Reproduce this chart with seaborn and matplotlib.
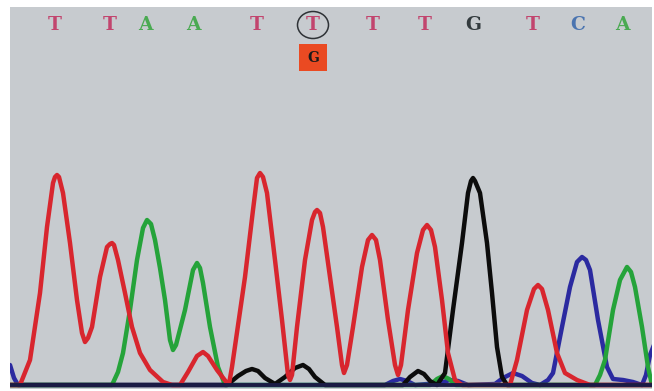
import matplotlib
matplotlib.use("Agg")
import matplotlib.pyplot as plt
from matplotlib.patches import Ellipse, Rectangle
import pandas as pd
import seaborn as sns

# base calls along the top of the trace
bases = ["T", "T", "A", "A", "T", "T", "T", "T", "G", "T", "C", "A"]
base_pos = [55, 110, 145, 193, 257, 313, 373, 425, 473, 533, 578, 622]
mutant_index = 5
mutant_base = "G"

# trace samples: scan position, signal height
red_x = [10, 20, 30, 40, 47, 53, 55, 57, 59, 63, 70, 77, 82, 85, 88, 92, 100, 107, 110, 112,
         114, 118, 125, 132, 140, 150, 163, 172, 180, 188, 197, 203, 208, 217, 227, 229, 232,
         245, 253, 257, 260, 263, 267, 275, 282, 288, 290, 292, 297, 305, 312, 315, 317, 320,
         323, 330, 337, 342, 344, 347, 353, 362, 368, 372, 376, 380, 388, 395, 398, 401, 408,
         417, 423, 427, 431, 435, 442, 448, 455, 462, 510, 517, 527, 534, 538, 542, 548, 557,
         565, 577, 590, 652]
red_y = [0, 0, 25, 92, 158, 202, 208, 210, 208, 192, 142, 85, 52, 43, 47, 58, 108, 138, 141, 142,
         140, 125, 92, 58, 32, 15, 3, 0, 0, 13, 29, 33, 29, 15, 2, 1, 18,
         108, 175, 207, 212, 208, 192, 125, 65, 10, 5, 10, 58, 125, 165, 173, 175, 172,
         158, 108, 58, 20, 12, 20, 58, 118, 145, 150, 145, 125, 65, 20, 10, 20, 75,
         132, 155, 160, 155, 138, 85, 32, 5, 0, 0, 25, 75, 96, 100, 96, 75, 32,
         12, 5, 0, 0]

green_x = [10, 112, 118, 123, 130, 137, 143, 147, 151, 155, 160, 165, 170, 173, 176, 185, 193,
           197, 200, 203, 210, 218, 225, 430, 437, 443, 449, 456, 595, 600, 605, 613, 620, 627,
           631, 635, 642, 648, 652]
green_y = [0, 0, 13, 32, 75, 125, 157, 165, 161, 145, 117, 85, 45, 35, 40, 75, 115,
           122, 117, 102, 58, 18, 0, 0, 6, 9, 6, 0, 0, 10, 25, 75, 105, 118,
           113, 98, 58, 18, 0]

black_x = [10, 227, 238, 246, 252, 258, 265, 275, 285, 295, 303, 309, 315, 325, 403, 410, 418,
           424, 430, 437, 445, 453, 462, 468, 471, 473, 475, 480, 487, 492, 497, 502, 507, 652]
black_y = [0, 0, 9, 14, 16, 14, 7, 1, 8, 17, 20, 16, 8, 0, 0, 8, 14,
           11, 4, 0, 12, 75, 142, 192, 204, 207, 204, 192, 142, 92, 38, 8, 0, 0]

blue_x = [10, 14, 18, 385, 393, 400, 407, 415, 440, 450, 458, 468, 495, 503, 513, 522, 532, 540,
          548, 553, 562, 570, 577, 582, 586, 590, 598, 607, 613, 623, 633, 642, 646, 650, 654]
blue_y = [20, 7, 0, 0, 4, 6, 4, 0, 2, 5, 4, 0, 1, 7, 12, 9, 2, 0,
          5, 12, 58, 98, 123, 128, 125, 115, 65, 18, 6, 5, 3, 0, 10, 30, 40]

traces = pd.concat([
    pd.DataFrame({"scan": red_x, "signal": red_y, "dye": "T"}),
    pd.DataFrame({"scan": green_x, "signal": green_y, "dye": "A"}),
    pd.DataFrame({"scan": black_x, "signal": black_y, "dye": "G"}),
    pd.DataFrame({"scan": blue_x, "signal": blue_y, "dye": "C"}),
])

trace_colors = {"T": "#d8262e", "A": "#25a33a", "G": "#0c0c0c", "C": "#2b2aa0"}
letter_colors = {"T": "#c2456e", "A": "#4aaa52", "G": "#333b3e", "C": "#4a74b0"}

fig = plt.figure(figsize=(6.54, 3.91), dpi=100, facecolor="white")
ax = fig.add_axes([10 / 654, 2 / 391, 642 / 654, 382 / 391])
ax.set_facecolor("#c7cbcf")

for dye in ["C", "A", "G", "T"]:
    sns.lineplot(data=traces[traces["dye"] == dye], x="scan", y="signal", sort=False,
                 estimator=None, color=trace_colors[dye], lw=3.2, ax=ax, zorder=2,
                 solid_joinstyle="round", solid_capstyle="round")

# dark baseline over the flat parts of the traces
ax.axhline(0, color="#1b1b45", lw=2.8, zorder=3)

letter_y = 360
for b, xpos in zip(bases, base_pos):
    ax.text(xpos, letter_y, b, color=letter_colors[b], ha="center", va="center",
            fontsize=13.5, fontweight="bold", family="DejaVu Serif")

mx = base_pos[mutant_index]
ax.add_patch(Ellipse((mx, letter_y), 31, 27, fill=False, ec="#2e3236", lw=1.1))
ax.add_patch(Rectangle((mx - 14, 314), 28, 27, fc="#ea4a22", ec="none"))
ax.text(mx, 327, mutant_base, color="#1a1a1a", ha="center", va="center",
        fontsize=10, fontweight="bold", family="DejaVu Serif")

ax.set_xlim(10, 652)
ax.set_ylim(-4, 378)
ax.set_xlabel("")
ax.set_ylabel("")
ax.set_xticks([])
ax.set_yticks([])
for s in ax.spines.values():
    s.set_visible(False)

fig.savefig("out.png", dpi=100, facecolor="white")
